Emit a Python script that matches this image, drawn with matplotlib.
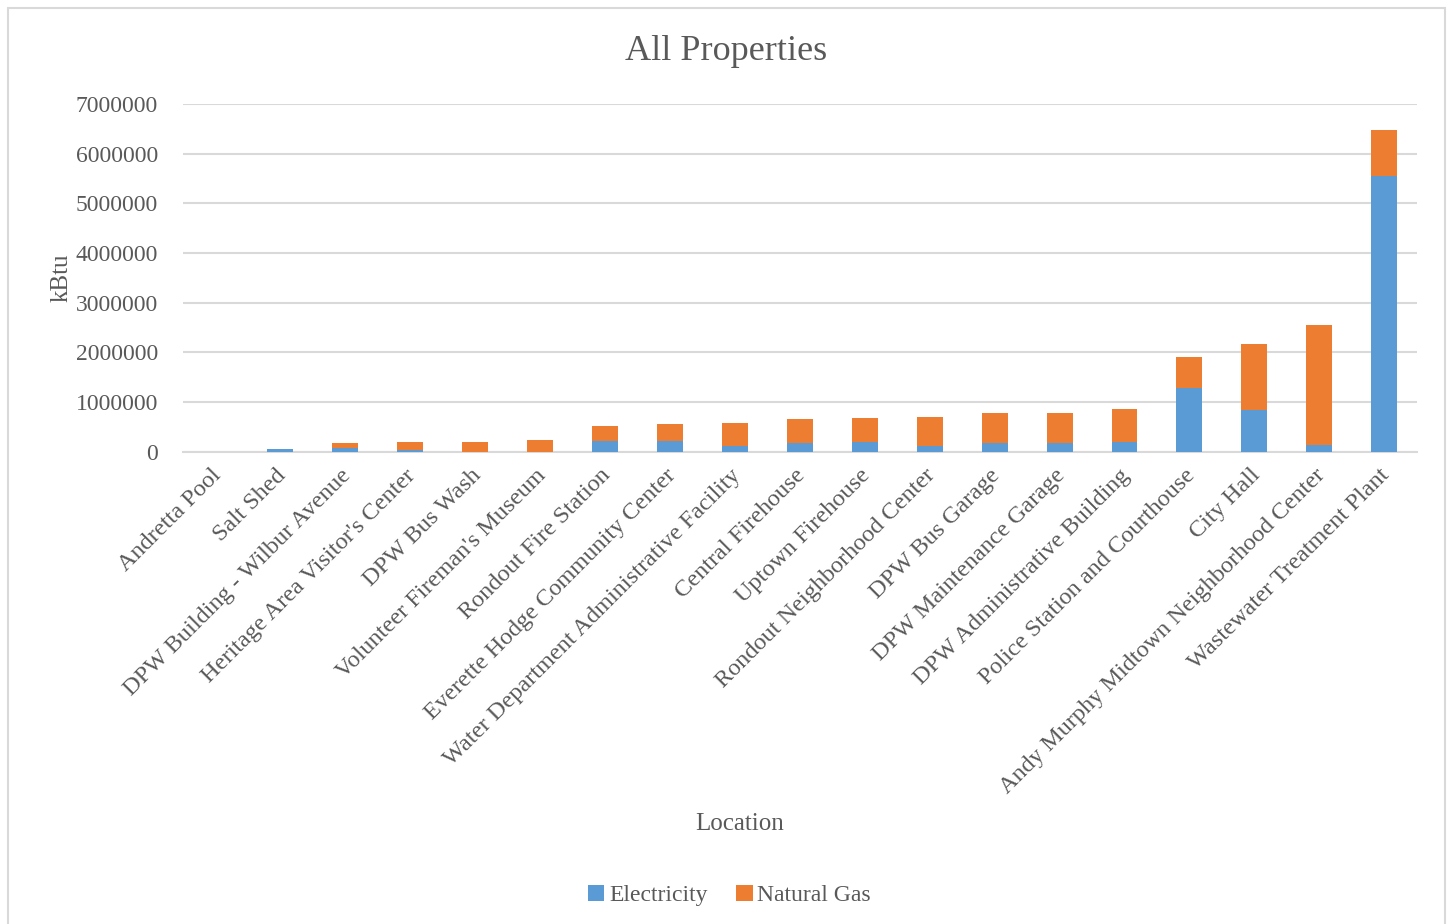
import matplotlib.pyplot as plt
from matplotlib.patches import Rectangle
from matplotlib.transforms import ScaledTranslation

locations = [
    "Andretta Pool", "Salt Shed", "DPW Building - Wilbur Avenue",
    "Heritage Area Visitor's Center", "DPW Bus Wash", "Volunteer Fireman's Museum",
    "Rondout Fire Station", "Everette Hodge Community Center",
    "Water Department Administrative Facility", "Central Firehouse",
    "Uptown Firehouse", "Rondout Neighborhood Center", "DPW Bus Garage",
    "DPW Maintenance Garage", "DPW Administrative Building",
    "Police Station and Courthouse", "City Hall",
    "Andy Murphy Midtown Neighborhood Center", "Wastewater Treatment Plant",
]
electricity = [5000, 55000, 80000, 30000, 0, 0, 210000, 215000, 115000, 175000,
               200000, 115000, 175000, 175000, 200000, 1289000, 839000, 134000, 5550000]
natural_gas = [0, 0, 100000, 160000, 200000, 240000, 300000, 355000, 470000, 485000,
               480000, 595000, 615000, 610000, 666000, 624000, 1335000, 2416000, 920000]

blue = '#5B9BD5'
orange = '#ED7D31'
text_color = '#595959'

plt.rcParams['font.family'] = ['Liberation Serif', 'DejaVu Serif']

fig = plt.figure(figsize=(14.53, 9.24), dpi=100)
ax = fig.add_axes([0.126, 0.511, 0.849, 0.3766])

x = range(len(locations))
ax.bar(x, electricity, width=0.4, color=blue, label='Electricity', zorder=3)
ax.bar(x, natural_gas, width=0.4, bottom=electricity, color=orange,
       label='Natural Gas', zorder=3)

ax.set_ylim(0, 7000000)
ax.set_xlim(-0.5, len(locations) - 0.5)
ax.set_yticks(range(0, 7000001, 1000000))
ax.set_yticklabels([str(v) for v in range(0, 7000001, 1000000)])
ax.grid(axis='y', color='#D9D9D9', linewidth=1.5, zorder=0)
for s in ['top', 'right', 'left']:
    ax.spines[s].set_visible(False)
ax.spines['bottom'].set_color('#D9D9D9')
ax.spines['bottom'].set_linewidth(1.5)
ax.tick_params(axis='both', length=0, labelsize=17, colors=text_color, pad=8)
ax.tick_params(axis='y', pad=18)
ax.tick_params(axis='x', labelsize=17.5)
ax.set_xticks(list(x))
ax.set_xticklabels(locations, rotation=45, ha='right', rotation_mode='anchor')
shift = ScaledTranslation(-5 / 100, -2 / 100, fig.dpi_scale_trans)
for lbl in ax.get_xticklabels():
    lbl.set_transform(lbl.get_transform() + shift)

fig.text(0.5, 0.944, 'All Properties', fontsize=26, color=text_color,
         ha='center', va='center')
ax.set_ylabel('kBtu', fontsize=18, color=text_color, labelpad=2)
fig.text(0.509, 0.108, 'Location', fontsize=18, color=text_color, ha='center', va='center')

fig.legend(loc='center', bbox_to_anchor=(0.502, 0.031), ncol=2, frameon=False,
           fontsize=17, labelcolor=text_color, handlelength=0.7, handleheight=0.7,
           handletextpad=0.2, columnspacing=1.2)

fig.patches.append(Rectangle((8 / 1453, -0.01), 1437 / 1453, 1.0 - 8 / 924 + 0.01,
                             transform=fig.transFigure, fill=False,
                             edgecolor='#D9D9D9', linewidth=1.5))

fig.savefig('out.png', dpi=100)
